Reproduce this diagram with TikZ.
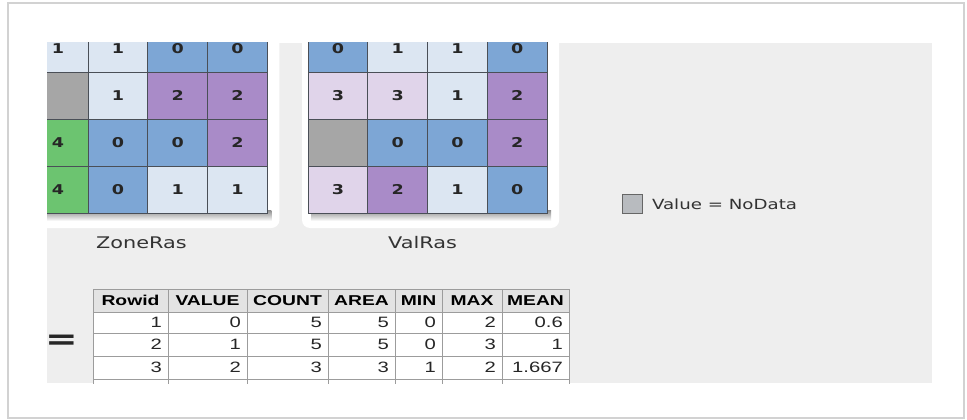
\documentclass[tikz,border=0pt]{standalone}
\usepackage{fontspec}
\usetikzlibrary{positioning}
\newfontfamily\rasfont[FakeStretch=1.3]{DejaVu Sans}
\newfontfamily\tabfont[FakeStretch=1.35]{Liberation Sans}
\definecolor{zero}{HTML}{7DA6D5}
\definecolor{one}{HTML}{DCE6F2}
\definecolor{two}{HTML}{A98BC8}
\definecolor{three}{HTML}{E0D4EA}
\definecolor{four}{HTML}{6CC470}
\definecolor{nodata}{HTML}{A6A6A6}
\definecolor{legendgray}{HTML}{B8BBBF}
\definecolor{panel}{HTML}{EEEEEE}
\definecolor{gridline}{HTML}{4A4F57}
\definecolor{tabline}{HTML}{9C9C9C}
\definecolor{tabhead}{HTML}{E3E3E3}
\newcommand{\cellw}{59.8}
\newcommand{\cellh}{47}
\newcommand{\celly}{25}
\newcommand{\Raster}[3]{%
  \fill[white, rounded corners=8] (#2-6,10) rectangle ({#2+4*\cellw+12},228);
  \shade[top color=black!45, bottom color=white]
    (#2+3,210) rectangle ({#2+4*\cellw+4},221);
  \foreach \val/\col [count=\k from 0] in {#3} {
    \pgfmathtruncatemacro{\cc}{mod(\k,4)}
    \pgfmathtruncatemacro{\rr}{div(\k,4)}
    \filldraw[fill=\col, draw=gridline, line width=0.9]
      ({#2+\cc*\cellw},{\celly+\rr*\cellh}) rectangle ++(\cellw,\cellh);
    \node[cellnum] (#1-\rr-\cc) at ({#2+(\cc+0.5)*\cellw},{\celly+(\rr+0.5)*\cellh}) {\val};
  }
}

\begin{document}
\begin{tikzpicture}[x=1pt,y=-1pt,
    cellnum/.style={font=\rasfont\bfseries\fontsize{13.5}{14}\selectfont, text=black!85},
    raslabel/.style={font=\rasfont\fontsize{16}{18}\selectfont, text=black!80},
    headcell/.style={font=\tabfont\bfseries\fontsize{14.3}{17}\selectfont, inner sep=0pt},
    tabcell/.style={font=\tabfont\fontsize{15}{17}\selectfont, text=black!85, inner sep=0pt}]
\useasboundingbox (0,0) rectangle (967,420);
\filldraw[fill=white, draw=gray!35, line width=1.2] (8,3) rectangle (964,418);
\fill[panel] (47,43) rectangle (932,383);

\begin{scope}
\clip (47,43) rectangle (932,383);
\Raster{zone}{28.2}{1/one,1/one,0/zero,0/zero,
  {}/nodata,1/one,2/two,2/two,
  4/four,0/zero,0/zero,2/two,
  4/four,0/zero,1/one,1/one}
\Raster{val}{308}{0/zero,1/one,1/one,0/zero,
  3/three,3/three,1/one,2/two,
  {}/nodata,0/zero,0/zero,2/two,
  3/three,2/two,1/one,0/zero}

% the zonal statistics table
\fill[tabhead] (93,289) rectangle (569,312);
\fill[white] (93,312) rectangle (569,395);
\foreach \yy in {289,312,333,356,379}
  \draw[tabline, line width=0.9] (93,\yy) -- (569,\yy);
\foreach \xx in {93,168,247,328,395,442,502,569}
  \draw[tabline, line width=0.9] (\xx,289) -- (\xx,395);
\foreach \xl/\xr/\h [count=\i] in {93/168/Rowid,168/247/VALUE,247/328/COUNT,
    328/395/AREA,395/442/MIN,442/502/MAX,502/569/MEAN}
  \node[headcell] (head-\i) at ({(\xl+\xr)/2},300.5) {\h};
\foreach \vals [count=\r] in {{1,0,5,5,0,2,0.6},{2,1,5,5,0,3,1},{3,2,3,3,1,2,1.667}} {
  \pgfmathsetmacro\yc{{322.5,344.5,367.5}[\r-1]}
  \foreach \v [count=\c] in \vals {
    \pgfmathsetmacro\xr{{168,247,328,395,442,502,569}[\c-1]}
    \node[tabcell, anchor=east] (cell-\r-\c) at (\xr-6,\yc) {\v};
  }
}
\end{scope}

\node[raslabel] (zonelabel) at (141.5,243) {ZoneRas};
\node[raslabel] (vallabel) at (422.5,243) {ValRas};
\node[font=\rasfont\bfseries\fontsize{30}{30}\selectfont, text=black!85] (equals) at (61.5,342.5) {=};

% legend
\node[draw=gray!80!black, fill=legendgray, line width=1,
  minimum width=20, minimum height=19, inner sep=0pt] (nodatabox) at (632,204) {};
\node[raslabel, font=\rasfont\fontsize{14}{16}\selectfont, right=6pt of nodatabox] (nodatatext) {Value = NoData};
\end{tikzpicture}
\end{document}
